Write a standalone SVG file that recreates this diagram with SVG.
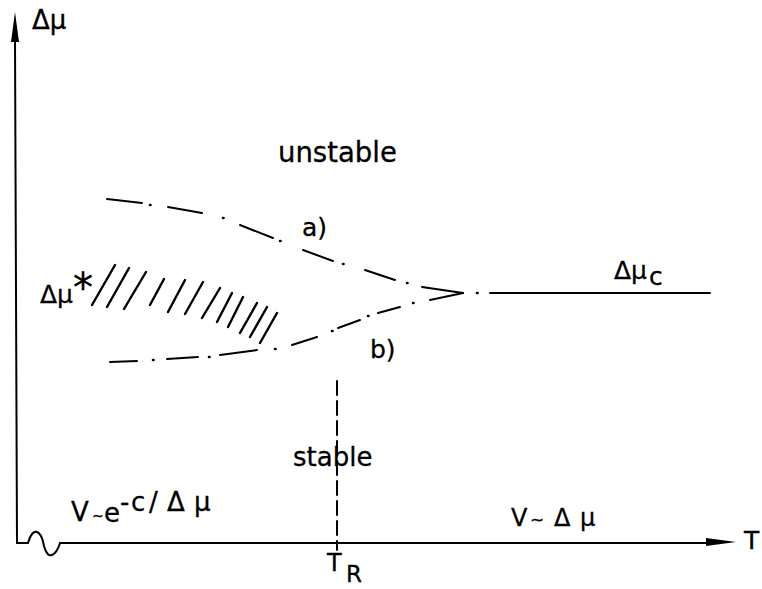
<svg xmlns="http://www.w3.org/2000/svg" width="762" height="589" viewBox="0 0 762 589">
<style>
  .ln{stroke:#000;stroke-width:2;fill:none;stroke-linecap:round}
  .dt{stroke:#000;stroke-width:2.6;fill:none;stroke-linecap:round}
  .ht{stroke:#000;stroke-width:2.4;stroke-linecap:round}
  .tx{font-family:"DejaVu Sans",sans-serif;fill:#000;stroke:#000;stroke-width:0.3}
</style>
<rect width="762" height="589" fill="#fff"/>
<g id="axes">
  <line class="ln" x1="15" y1="40" x2="17" y2="543"/>
  <polygon points="15,12 11,42 19,42" fill="#000"/>
  <path class="ln" d="M17,543 H28 Q32,530 37,532 Q42,534 44,546 Q47,557 52,555 Q57,553 60,543 H710"/>
  <polygon points="736,542 706,538 706,546" fill="#000"/>
  <text class="tx" x="32" y="29" font-size="26">Δμ</text>
  <text class="tx" x="744" y="549" font-size="25">T</text>
  <text class="tx" x="327" y="571" font-size="24">T<tspan x="346" y="582" font-size="23">R</tspan></text>
</g>
<g id="connectors">
  <g id="curve-a">
    <path class="ln" d="M107,199 L142,203 M168,207 L202,213 M240,225 L273,238 M303,250 L333,261 M365,270 L395,280 M422,287 L463,293"/>
    <path class="dt" d="M150,205 h0.5 M223,218 h0.5 M280,241 h0.5 M343,264 h0.5 M407,283 h0.5"/>
  </g>
  <g id="curve-b">
    <path class="ln" d="M110,362 L137,361 M167,359 L198,357 M220,355 L257,350 M292,345 L317,337 M338,328 L360,320 M378,313 L400,307 M430,300 L463,293"/>
    <path class="dt" d="M153,360 h0.5 M209,357 h0.5 M275,349 h0.5 M332,331 h0.5 M368,316 h0.5 M413,303 h0.5"/>
  </g>
  <g id="critical-line">
    <path class="dt" d="M477,293 h0.5"/>
    <line class="ln" x1="490" y1="293" x2="710" y2="293"/>
  </g>
  <line id="TR-line" class="ln" x1="337" y1="381" x2="337" y2="550" stroke-dasharray="14 6" stroke-linecap="butt"/>
</g>
<g id="hatch">
  <line class="ht" x1="115" y1="265" x2="92" y2="305"/>
  <line class="ht" x1="129" y1="268" x2="107" y2="307"/>
  <line class="ht" x1="146" y1="272" x2="124" y2="309"/>
  <line class="ht" x1="164" y1="279" x2="150" y2="305"/>
  <line class="ht" x1="185" y1="280" x2="168" y2="312"/>
  <line class="ht" x1="203" y1="282" x2="185" y2="314"/>
  <line class="ht" x1="220" y1="288" x2="202" y2="318"/>
  <line class="ht" x1="232" y1="293" x2="217" y2="322"/>
  <line class="ht" x1="243" y1="297" x2="228" y2="327"/>
  <line class="ht" x1="257" y1="303" x2="240" y2="333"/>
  <line class="ht" x1="267" y1="307" x2="250" y2="337"/>
  <line class="ht" x1="277" y1="313" x2="260" y2="343"/>
</g>
<g id="labels">
  <text id="unstable" class="tx" x="278" y="162" font-size="27.5">unstable</text>
  <text id="stable" class="tx" x="293" y="466" font-size="26">stable</text>
  <text id="label-a" class="tx" x="302" y="236" font-size="25">a)</text>
  <text id="label-b" class="tx" x="370" y="358" font-size="25">b)</text>
  <text id="delta-mu-star" class="tx" x="40" y="303" font-size="25">Δμ<tspan font-size="40" y="302">*</tspan></text>
  <text id="delta-mu-c" class="tx" x="614" y="279" font-size="25">Δμ<tspan x="649" y="285" font-size="25">c</tspan></text>
  <text id="v-exp" class="tx" font-size="26"><tspan x="71" y="521">V</tspan><tspan x="92" y="521" font-size="14">~</tspan><tspan x="104" y="522">e</tspan><tspan x="120" y="511">-</tspan><tspan x="131" y="511">c</tspan><tspan x="149" y="511">/</tspan><tspan x="167" y="511">Δ</tspan><tspan x="194" y="511">μ</tspan></text>
  <text id="v-lin" class="tx" font-size="24"><tspan x="511" y="526">V</tspan><tspan x="530" y="526" font-size="17">~</tspan><tspan x="554" y="526">Δ</tspan><tspan x="580" y="526">μ</tspan></text>
</g>
</svg>
